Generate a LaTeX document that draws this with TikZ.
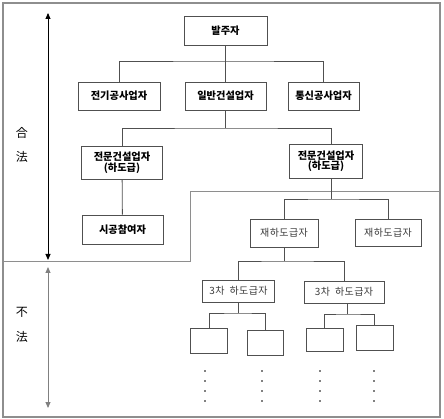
\documentclass[tikz,border=0pt]{standalone}
\usepackage{fontspec}
\usepackage{tikz}
\usetikzlibrary{arrows.meta,positioning}
\newfontfamily\kr{Noto Sans CJK KR}
\newfontfamily\krw[LetterSpace=4]{Noto Sans CJK KR}
\definecolor{frame}{HTML}{8E8E8E}
\definecolor{edge}{HTML}{505050}
\definecolor{ink}{HTML}{3A3A3A}

\begin{document}
\begin{tikzpicture}[x=1pt,y=-1pt,font=\kr\fontsize{10}{11}\selectfont,
  b/.style={draw=edge,line width=0.9pt,align=center,inner sep=0pt},
  hb/.style={b,font=\kr\bfseries\fontsize{10.2}{10.5}\selectfont},
  lb/.style={b,text=ink,font=\krw\fontsize{10}{11}\selectfont},
  ln/.style={edge,line width=0.8pt},
  tip/.tip={Triangle[length=6pt,width=5pt]},
  arr/.style={tip-tip,line width=0.9pt}]
\useasboundingbox (0,0) rectangle (444,419);
\draw[frame,line width=1.2pt] (3,3) rectangle (440,417);
\draw[frame,line width=0.8pt] (3,261) -- (190,261) -- (190,191) -- (440,191);

% legal / illegal
\coordinate (up1) at (48,13);
\coordinate (dn1) at (48,260);
\coordinate (up2) at (48,267);
\coordinate (dn2) at (48,408);
\draw[arr] (up1) -- (dn1);
\draw[arr,frame!90!black] (up2) -- (dn2);
\node[font=\kr\fontsize{12}{12}\selectfont] (hap) at (22,133) {合};
\node[font=\kr\fontsize{12}{12}\selectfont] (beop1) at (22,157) {法};
\node[font=\kr\fontsize{12}{12}\selectfont] (bul) at (22,312) {不};
\node[font=\kr\fontsize{12}{12}\selectfont] (beop2) at (22,337) {法};

% upper tree
\node[hb,minimum width=83,minimum height=29] (bal) at (225.5,30.5) {발주자};
\node[hb,minimum width=82,minimum height=28] (jg) at (119,96) {전기공사업자};
\node[hb,minimum width=81,minimum height=28] (il) at (225.5,96) {일반건설업자};
\node[hb,minimum width=71,minimum height=28] (tong) at (323.5,96) {통신공사업자};
\node[hb,minimum width=81,minimum height=33] (jm1) at (122,162.5) {전문건설업자\\(하도급)};
\node[hb,minimum width=73,minimum height=34] (jm2) at (326,161) {전문건설업자\\(하도급)};
\node[hb,minimum width=81,minimum height=29] (sg) at (122.5,229.5) {시공참여자};

\coordinate (bus1) at (225.5,61);
\coordinate (bus2) at (225.5,128);
\draw[ln] (bal) -- (il);
\draw[ln] (jg.north) |- (bus1) -| (tong.north);
\draw[ln] (il) -- (bus2);
\draw[ln] (jm1.north) |- (bus2) -| ([xshift=5pt]jm2.north);
\draw[ln] (jm1) -- (sg);

% lower tree
\node[lb,minimum width=68,minimum height=28] (jh1) at (284,233) {재하도급자};
\node[lb,minimum width=66,minimum height=27] (jh2) at (388,232.5) {재하도급자};
\node[lb,minimum width=72,minimum height=22] (c1) at (238.5,291) {3차\hspace{5pt}하도급자};
\node[lb,minimum width=80,minimum height=22] (c2) at (344,292) {3차\hspace{5pt}하도급자};
\node[b,minimum width=37,minimum height=25] (e1) at (209,340.5) {};
\node[b,minimum width=36,minimum height=25] (e2) at (265,342.5) {};
\node[b,minimum width=37,minimum height=23] (e3) at (324.5,339.5) {};
\node[b,minimum width=37,minimum height=25] (e4) at (374.5,337.5) {};

\coordinate (bus3) at (331,199);
\coordinate (bus4) at (284,261);
\coordinate (bus5) at (238.5,313);
\coordinate (bus6) at (347,314);
\draw[ln] ([xshift=5pt]jm2.south) -- (bus3);
\draw[ln] (jh1.north) |- (bus3) -| (jh2.north);
\draw[ln] (jh1) -- (bus4);
\draw[ln] (c1.north) |- (bus4) -| (c2.north);
\draw[ln] (c1) -- (bus5);
\draw[ln] (e1.north) |- (bus5) -| (e2.north);
\draw[ln] ([xshift=3pt]c2.south) -- (bus6);
\draw[ln] (e3.north) |- (bus6) -| (e4.north);

\foreach \x in {205,262,320,374}
  \foreach \y in {371,381,391,401}
    \fill (\x,\y) circle (0.8pt);
\end{tikzpicture}
\end{document}
